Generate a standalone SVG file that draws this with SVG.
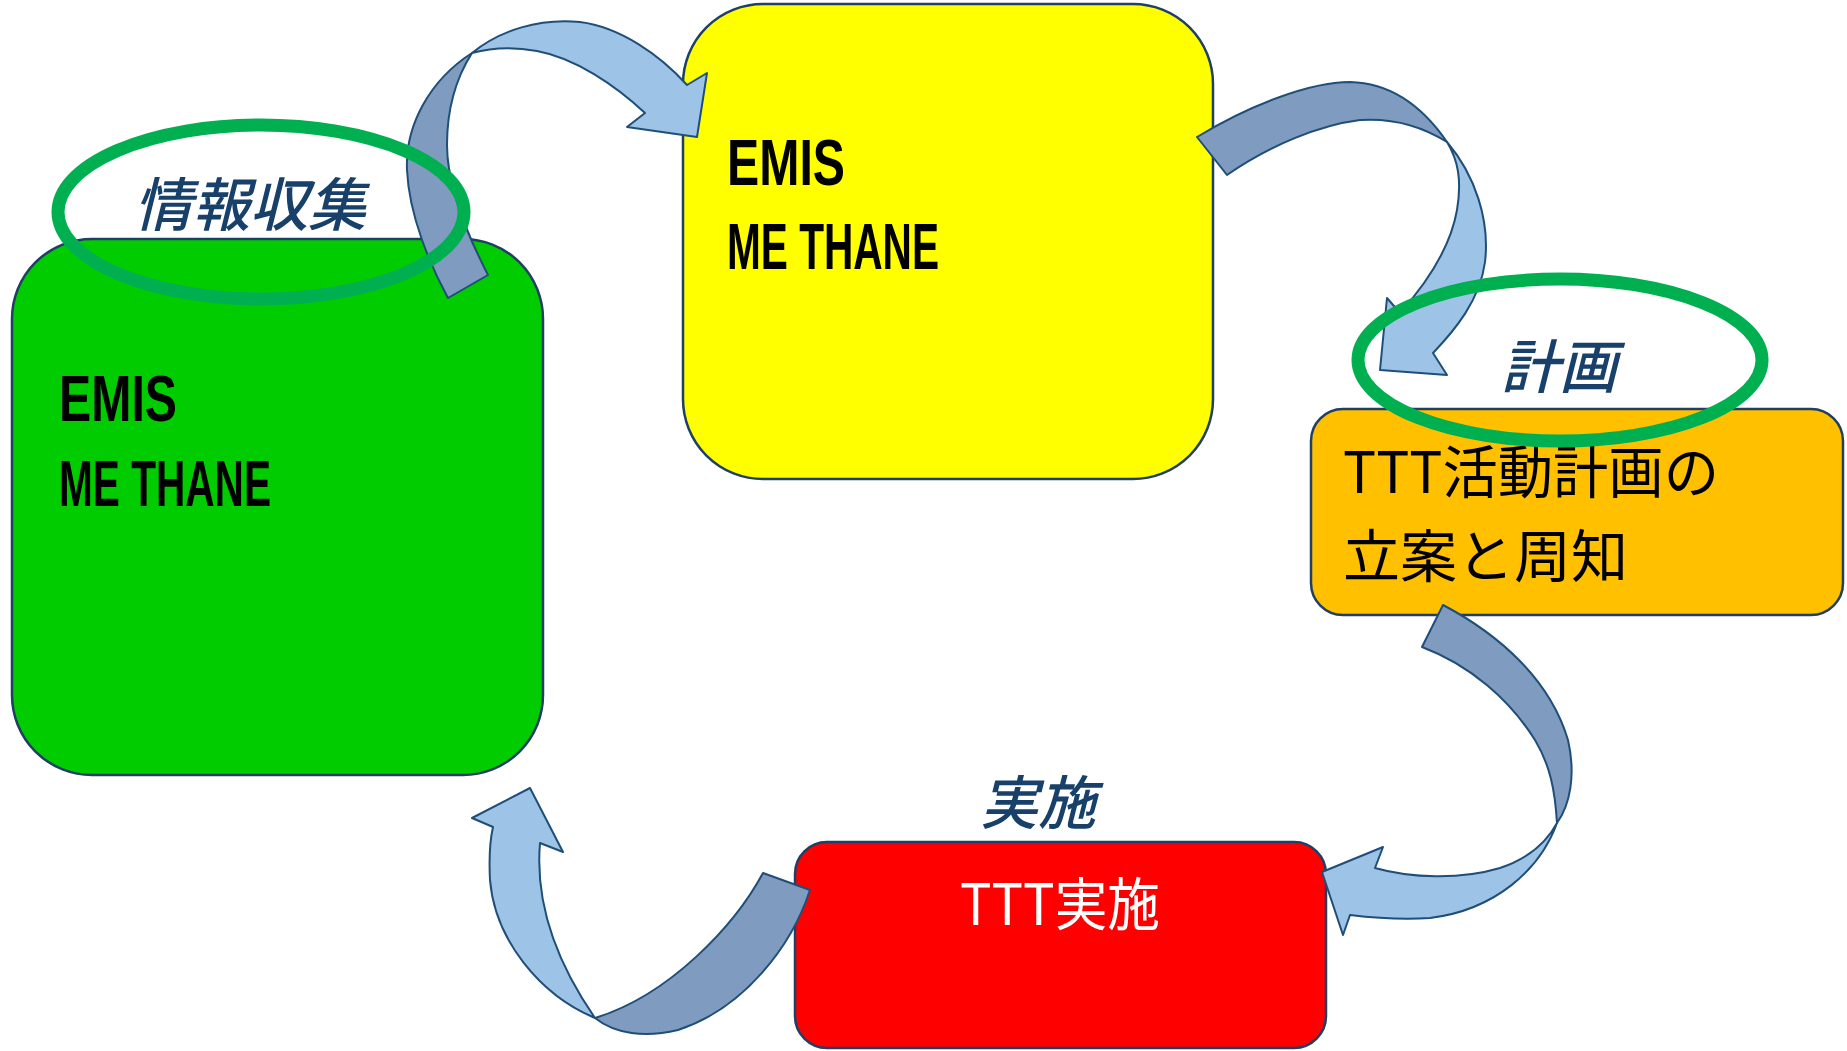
<svg xmlns="http://www.w3.org/2000/svg" width="1847" height="1051" viewBox="0 0 1847 1051">
<style>
.box{stroke:#1F3F64;stroke-width:2.5}
.lt{fill:#9DC3E6;stroke:#1F4E79;stroke-width:2;stroke-linejoin:round}
.dk{fill:#7F9BBF;stroke:#1F4E79;stroke-width:2;stroke-linejoin:round}
.ring{fill:none;stroke:#00B050;stroke-width:13}
.lab{font-family:"Noto Sans CJK JP","Noto Sans CJK SC",sans-serif;font-style:italic;font-weight:500;font-size:58px;fill:#17406B}
.en{font-family:"Liberation Sans Narrow","Liberation Sans",sans-serif;font-weight:bold;font-size:64px;fill:#000}
.jp{font-family:"Noto Sans CJK JP","Noto Sans CJK SC",sans-serif;font-size:57px}
</style>
<rect width="1847" height="1051" fill="#fff"/>
<g id="node-green">
<rect class="box" x="12" y="239" width="531" height="536" rx="80" fill="#00CC00"/>
<text class="en" x="59" y="421" textLength="118" lengthAdjust="spacingAndGlyphs">EMIS</text>
<text class="en" x="59" y="506" textLength="212" lengthAdjust="spacingAndGlyphs">ME THANE</text>
</g>
<g id="node-yellow">
<rect class="box" x="683" y="4" width="530" height="475" rx="80" fill="#FFFF00"/>
<text class="en" x="727" y="185" textLength="118" lengthAdjust="spacingAndGlyphs">EMIS</text>
<text class="en" x="727" y="269" textLength="212" lengthAdjust="spacingAndGlyphs">ME THANE</text>
</g>
<g id="node-orange">
<rect class="box" x="1311" y="409" width="532" height="206" rx="32" fill="#FFC000"/>
<text class="jp" x="1343" y="493" fill="#000" textLength="376" lengthAdjust="spacingAndGlyphs">TTT活動計画の</text>
<text class="jp" x="1343" y="577" fill="#000">立案と周知</text>
</g>
<g id="node-red">
<rect class="box" x="795" y="842" width="531" height="206" rx="32" fill="#FF0000"/>
<text class="jp" x="960" y="925" fill="#fff" textLength="200" lengthAdjust="spacingAndGlyphs">TTT実施</text>
</g>
<g id="connectors">
<path class="dk" d="M448,298 L488,275 C465,230 447,185 447,145 C447,105 458,75 472,53 C430,80 405,125 407,170 C409,215 430,265 448,298 Z"/>
<path class="lt" d="M472,53 C500,30 540,18 580,22 C620,27 660,55 687,85 L707,73 L697,137 L627,127 L645,113 C615,85 575,58 537,51 C510,46 490,48 472,53 Z"/>
<path class="dk" d="M1197,137 C1250,105 1310,82 1350,82 C1395,83 1425,110 1447,142 C1420,125 1390,118 1360,120 C1320,125 1270,145 1227,175 Z"/>
<path class="lt" d="M1447,142 C1475,175 1490,220 1485,262 C1480,300 1455,330 1433,353 L1447,375 L1380,370 L1387,298 L1400,313 C1425,285 1450,250 1457,210 C1462,180 1458,160 1447,142 Z"/>
<path class="dk" d="M1443,605 C1500,635 1550,680 1568,740 C1576,775 1570,805 1557,823 C1555,790 1550,765 1535,740 C1510,700 1470,665 1422,647 Z"/>
<path class="lt" d="M1557,823 C1540,870 1495,910 1430,918 C1400,920 1375,918 1350,915 L1343,935 L1322,872 L1383,847 L1375,868 C1410,878 1460,880 1500,868 C1530,858 1548,840 1557,823 Z"/>
<path class="dk" d="M763,873 C735,925 670,995 595,1018 C615,1034 645,1038 678,1030 C745,1008 792,945 810,890 Z"/>
<path class="lt" d="M595,1018 C540,995 495,940 490,880 C489,860 490,840 493,827 L472,818 L530,788 L563,852 L540,843 C536,890 548,950 595,1018 Z"/>
</g>
<g id="label-collect">
<ellipse class="ring" cx="261" cy="212" rx="203" ry="87"/>
<text class="lab" x="134" y="226">情報収集</text>
</g>
<g id="label-plan">
<ellipse class="ring" cx="1560" cy="360" rx="202" ry="81"/>
<text class="lab" x="1501" y="388">計画</text>
</g>
<g id="label-do">
<text class="lab" x="980" y="824">実施</text>
</g>
</svg>
